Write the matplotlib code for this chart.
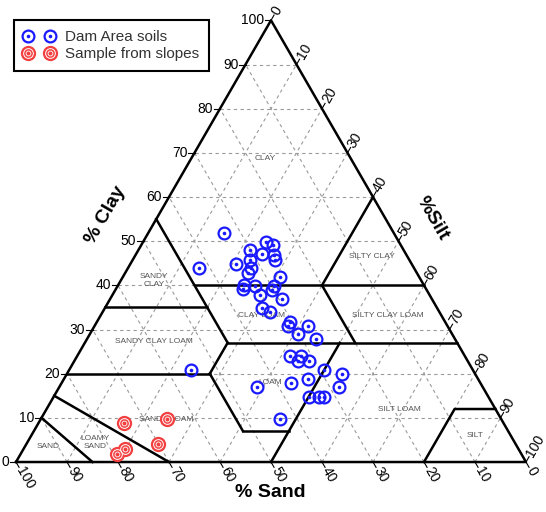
import numpy as np
import matplotlib
matplotlib.use('Agg')
import matplotlib.pyplot as plt
from matplotlib.lines import Line2D
from matplotlib.legend_handler import HandlerTuple

plt.rcParams['font.family'] = ['Liberation Sans', 'DejaVu Sans']

# soil samples, % sand / % clay (silt = rest)
dam_sand = [33.4, 42.2, 26.1, 25.0, 30.1, 28.2, 26.0, 26.4, 31.2, 34.4,
            32.0, 33.1, 27.2, 35.3, 36.0, 33.1, 29.5, 30.3, 33.2, 29.3,
            34.3, 33.2, 30.3, 31.3, 27.3, 30.3, 27.2, 34.2, 32.1, 33.2,
            31.1, 29.3, 26.1, 55.3, 37.2, 33.2, 28.2, 44.3, 35.2, 33.1,
            32.3, 43.3]
dam_clay = [51.8, 43.9, 49.9, 49.1, 47.9, 47.0, 46.9, 45.7, 45.8, 44.9,
            44.0, 42.9, 41.9, 40.0, 39.1, 39.9, 39.8, 38.9, 37.8, 36.9,
            34.8, 34.0, 31.8, 30.8, 30.8, 28.9, 27.8, 24.0, 24.1, 22.9,
            22.9, 20.8, 20.0, 20.8, 17.9, 18.9, 16.9, 16.9, 14.8, 14.8,
            14.8, 9.7]

slope_sand = [74.4, 65.4, 70.2, 77.2, 79.2]
slope_clay = [8.9, 9.8, 4.0, 2.9, 1.8]

# USDA class boundaries as (sand, clay) pairs
boundaries = [
    [(45, 40), (0, 40)],
    [(20, 40), (0, 60)],
    [(45, 55), (45, 27)],
    [(65, 35), (45, 35)],
    [(45, 27), (0, 27)],
    [(20, 40), (20, 27)],
    [(80, 20), (52, 20)],
    [(52, 20), (45, 27)],
    [(52, 20), (52, 7)],
    [(52, 7), (43, 7)],
    [(50, 0), (23, 27)],
    [(0, 12), (8, 12), (20, 0)],
    [(85, 15), (70, 0)],
    [(90, 10), (85, 0)],
]

class_names = ['CLAY', 'SILTY CLAY', 'SILTY CLAY LOAM', 'SANDY\nCLAY',
               'SANDY CLAY LOAM', 'CLAY LOAM', 'LOAM', 'SILT LOAM', 'SILT',
               'SANDY LOAM', 'LOAMY\nSAND', 'SAND']
class_pos = [(48.8, 59.6), (69.8, 40.2), (73.0, 28.8), (27.1, 35.6),
             (27.1, 23.6), (48.2, 28.7), (49.8, 15.6), (75.1, 10.3),
             (90.1, 5.2), (29.5, 8.4), (15.5, 3.9), (6.3, 3.0)]

H = np.sqrt(3) / 2


def tern(sand, clay):
    sand = np.asarray(sand, float)
    clay = np.asarray(clay, float)
    silt = 100 - sand - clay
    return silt + clay / 2, clay * H


fig = plt.figure(figsize=(5.46, 5.12), dpi=100)
ax = fig.add_axes([0, 0, 1, 1])
ax.set_xlim(-3.137, 103.92)
ax.set_ylim(-9.80, 90.59)
ax.axis('off')

# dashed grid
gkw = dict(color='#9a9a9a', lw=0.8, ls=(0, (3, 3)), zorder=1)
for k in range(10, 100, 10):
    ax.plot([k / 2, 100 - k / 2], [k * H, k * H], **gkw)
    ax.plot([100 - k, (100 - k) / 2], [0, (100 - k) * H], **gkw)
    ax.plot([k, 50 + k / 2], [0, (100 - k) * H], **gkw)

# outline
ax.plot([0, 100, 50, 0], [0, 0, 100 * H, 0], color='black', lw=1.8, zorder=3)

for seg in boundaries:
    s, c = zip(*seg)
    x, y = tern(s, c)
    ax.plot(x, y, color='black', lw=1.8, zorder=3)

for name, (x, y) in zip(class_names, class_pos):
    ax.text(x, y, name, fontsize=6, color='#555555', ha='center',
            va='center', linespacing=1.2, zorder=2)

# tick marks + labels
tl = 1.2
for k in range(0, 101, 10):
    # clay, left side
    x0, y0 = k / 2, k * H
    ax.plot([x0 - tl, x0], [y0, y0], color='black', lw=0.8)
    ax.text(x0 - tl - 0.2, y0, str(k), fontsize=10, ha='right', va='center')
    # sand, bottom
    d = np.array([0.5, -H])
    x0, y0 = 100 - k, 0
    ax.plot([x0, x0 + tl * d[0]], [y0, y0 + tl * d[1]], color='black', lw=0.8)
    ax.text(x0 + 1.4 * d[0], y0 + 1.4 * d[1], str(k), fontsize=10,
            rotation=-60, rotation_mode='anchor', ha='left', va='center')
    # silt, right side
    d = np.array([0.5, H])
    x0, y0 = 50 + k / 2, (100 - k) * H
    ax.plot([x0, x0 + tl * d[0]], [y0, y0 + tl * d[1]], color='black', lw=0.8)
    ax.text(x0 + 1.4 * d[0], y0 + 1.4 * d[1], str(k), fontsize=10,
            rotation=60, rotation_mode='anchor', ha='left', va='center')

ax.text(17.6, 48.4, '% Clay', fontsize=14, fontweight='bold', rotation=60,
        ha='center', va='center')
ax.text(81.6, 47.8, '%Silt', fontsize=14, fontweight='bold', rotation=-60,
        ha='center', va='center')
ax.text(49.8, -5.9, '% Sand', fontsize=14, fontweight='bold',
        ha='center', va='center')

# samples
bx, by = tern(dam_sand, dam_clay)
ax.plot(bx, by, 'o', ms=8.5, mfc='none', mec='#1a1aff', mew=1.6, zorder=5)
ax.plot(bx, by, 'o', ms=2.6, mfc='#1a1aff', mec='none', zorder=5)

rx, ry = tern(slope_sand, slope_clay)
red = '#f24040'
ax.plot(rx, ry, 'o', ms=11, mfc=red, mec='none', zorder=5)
ax.plot(rx, ry, 'o', ms=7, mfc='none', mec='white', mew=0.7, zorder=6)
ax.plot(rx, ry, 'o', ms=3.5, mfc='none', mec='white', mew=0.6, zorder=6)

h_dam = (Line2D([], [], ls='', marker='o', ms=8.5, mfc='none',
                mec='#1a1aff', mew=1.6),
         Line2D([], [], ls='', marker='o', ms=2.6, mfc='#1a1aff', mec='none'))
h_slope = (Line2D([], [], ls='', marker='o', ms=11, mfc=red, mec='none'),
           Line2D([], [], ls='', marker='o', ms=7, mfc='none', mec='white',
                  mew=0.7),
           Line2D([], [], ls='', marker='o', ms=3.5, mfc='none', mec='white',
                  mew=0.6))
leg = ax.legend([h_dam, h_slope], ['Dam Area soils', 'Sample from slopes'],
                handler_map={tuple: HandlerTuple(ndivide=1)}, numpoints=2,
                loc='upper left', bbox_to_anchor=(0.0256, 0.961),
                bbox_transform=fig.transFigure, borderaxespad=0,
                fontsize=11, labelspacing=0.2, handlelength=2.0,
                handletextpad=0.7, borderpad=0.65, fancybox=False,
                framealpha=1)
leg.get_frame().set_edgecolor('black')
leg.get_frame().set_linewidth(1.5)
for t in leg.get_texts():
    t.set_color('#333333')

fig.savefig('out.png', dpi=100)
